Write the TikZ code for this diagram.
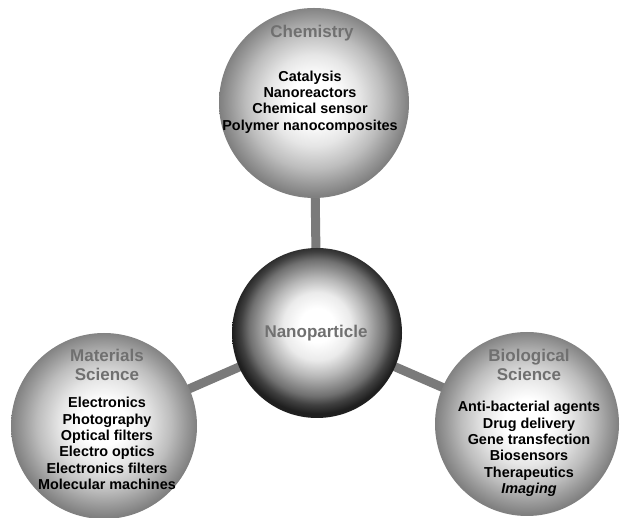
\documentclass[tikz,border=0pt]{standalone}
\usepackage{fontspec}
\setmainfont{Liberation Sans}
\usetikzlibrary{backgrounds}
% radial shadings: the circle edge sits at 25bp
\pgfdeclareradialshading{fieldball}{\pgfpoint{0bp}{1bp}}{%
  color(0bp)=(white); color(6bp)=(white); color(12bp)=(black!10);
  color(18bp)=(black!26); color(22bp)=(black!40); color(25bp)=(black!50); color(50bp)=(black!50)}
\pgfdeclareradialshading{coreball}{\pgfpoint{0bp}{2.5bp}}{%
  color(0bp)=(white); color(5bp)=(white); color(10bp)=(black!8);
  color(14.5bp)=(black!28); color(20bp)=(black!56); color(22.5bp)=(black!75); color(25bp)=(black!88); color(50bp)=(black!88)}
\definecolor{titlegray}{HTML}{707070}
\definecolor{linkgray}{HTML}{7A7A7A}
\tikzset{
  field/.style={circle, minimum size=#1, inner sep=0pt, shading=fieldball},
  core/.style={circle, minimum size=#1, inner sep=0pt, shading=coreball},
  fieldtitle/.style={font=\fontsize{17}{19}\selectfont\bfseries, text=titlegray, align=center},
  items/.style={font=\fontsize{14.4}{16.3}\selectfont\bfseries, align=center},
  link/.style={draw=linkgray, line width=9pt, line cap=round}
}
\begin{document}
\begin{tikzpicture}[x=1pt,y=1pt]
\useasboundingbox (0,0) rectangle (620,518);
% circles
\node[field=190pt] (chem) at (314,415) {};
\node[field=186pt] (mat) at (104,92) {};
\node[field=184pt] (bio) at (527,94) {};
\node[core=170pt] (nano) at (317,185) {};
% page and connectors behind the circles
\begin{pgfonlayer}{background}
\fill[white] (0,0) rectangle (620,518);
\draw[link] (chem.center) -- (nano.center);
\draw[link] (mat.center) -- (nano.center);
\draw[link] (bio.center) -- (nano.center);
\end{pgfonlayer}
% labels
\node[fieldtitle] (nanotxt) at (316,185) {Nanoparticle};
\node[fieldtitle] (chemtitle) at (312,485) {Chemistry};
\node[items] (chemitems) at (310,416) {Catalysis\\Nanoreactors\\Chemical sensor\\Polymer nanocomposites};
\node[fieldtitle] (mattitle) at (107,153.5) {Materials\\Science};
\node[items] (matitems) at (107,74.5) {Electronics\\Photography\\Optical filters\\Electro optics\\Electronics filters\\Molecular machines};
\node[fieldtitle] (biotitle) at (529,153) {Biological\\Science};
\node[items] (bioitems) at (529,69) {Anti-bacterial agents\\Drug delivery\\Gene transfection\\Biosensors\\Therapeutics\\\itshape Imaging};
\end{tikzpicture}
\end{document}
